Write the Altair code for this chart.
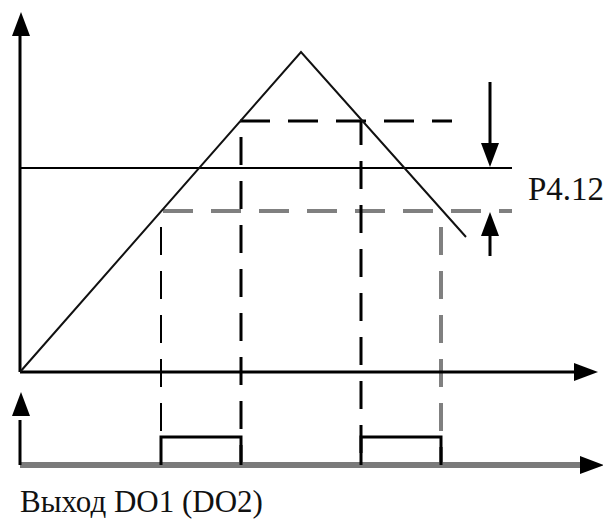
import altair as alt
import pandas as pd

# Conceptual coordinates: time t (origin = 0) and signal level s (origin = 0)
tri_t = [0, 281, 446]            # rising / falling signal
tri_s = [0, 320, 135]

level_hi = 251                   # upper hysteresis bound
level_set = 204                  # P4.12 set point
level_lo = 161                   # lower hysteresis bound

t_on1, t_off1, t_on2, t_off2 = 141, 221, 341, 421   # crossing moments

out_base = -93                   # DO output baseline
out_high = -65                   # DO output high level

axis_end_x = 555
axis_top_y = 340
out_axis_end_x = 570
out_axis_top_y = -48

adj_t = 470                      # position of the adjustment arrows
adj_top, adj_bottom = 290, 116

label_set = "P4.12"
label_out = "Выход DO1 (DO2)"

X = dict(scale=alt.Scale(domain=[-12, 583], nice=False, zero=False), axis=None)
Y = dict(scale=alt.Scale(domain=[-147, 364], nice=False, zero=False), axis=None)


def seg(rows, color="#000000", width=3, dash=None, offset=None):
    df = pd.DataFrame(rows, columns=["t", "s", "t2", "s2"])
    kw = dict(color=color, strokeWidth=width)
    if dash is not None:
        kw["strokeDash"] = dash
    if offset is not None:
        kw["strokeDashOffset"] = offset
    return alt.Chart(df).mark_rule(**kw).encode(
        x=alt.X("t:Q", **X), y=alt.Y("s:Q", **Y), x2="t2:Q", y2="s2:Q"
    )


def poly(ts, ss, color="#000000", width=2):
    df = pd.DataFrame({"t": ts, "s": ss, "o": list(range(len(ts)))})
    return alt.Chart(df).mark_line(color=color, strokeWidth=width).encode(
        x=alt.X("t:Q", **X), y=alt.Y("s:Q", **Y), order="o:Q"
    )


# axes
axes = seg([
    [0, 0, 0, axis_top_y],
    [0, 0, axis_end_x, 0],
    [0, out_base, 0, out_axis_top_y],
])
out_axis = seg([[0, out_base, out_axis_end_x, out_base]], color="#7a7a7a", width=6)

# set point line
setline = seg([[0, level_set, 492, level_set]], width=2)

# hysteresis dashed lines
hi_dash = seg([[t_off1 - 1, level_hi, 432, level_hi]], width=3, dash=[30, 18])
lo_dash = seg([[t_on1 + 2, level_lo, 492, level_lo]], color="#808080", width=4, dash=[30, 18])

# vertical dashed projections
v1 = seg([[t_on1, level_lo, t_on1, out_base]], width=2, dash=[28, 16], offset=28)
v2 = seg([[t_off1, level_hi, t_off1, out_base]], width=3, dash=[28, 16], offset=28)
v3 = seg([[t_on2, level_hi, t_on2, out_base]], width=3, dash=[28, 16], offset=4)
v4 = seg([[t_off2, level_lo, t_off2, out_base]], color="#808080", width=4, dash=[28, 16], offset=28)

# signal triangle
signal = poly(tri_t, tri_s, color="#111111", width=2)

# output pulses
p1 = poly([t_on1, t_on1, t_off1, t_off1], [out_base, out_high, out_high, out_base], width=3)
p2 = poly([t_on2, t_on2, t_off2, t_off2], [out_base, out_high, out_high, out_base], width=3)

# adjustment arrows shafts
shafts = seg([
    [adj_t, adj_top, adj_t, 215],
    [adj_t, adj_bottom, adj_t, 150],
])

# arrowheads
heads = pd.DataFrame({
    "t": [1, 566, 1, 572, adj_t, adj_t],
    "s": [348, 0, -32, out_base, 217, 148],
    "a": [0, 90, 0, 90, 180, 0],
})
arrowheads = alt.Chart(heads).mark_point(
    shape="M0,-1L0.75,1L-0.75,1Z", filled=True, color="#000000", opacity=1, size=576
).encode(
    x=alt.X("t:Q", **X), y=alt.Y("s:Q", **Y), angle=alt.Angle("a:Q", scale=None)
)

texts = pd.DataFrame({
    "t": [508, 0],
    "s": [182, -140],
    "txt": [label_set, label_out],
})
t_set = alt.Chart(texts.iloc[[0]]).mark_text(
    font="Liberation Serif", fontSize=33, align="left", baseline="middle", color="#111111"
).encode(x=alt.X("t:Q", **X), y=alt.Y("s:Q", **Y), text="txt:N")
t_out = alt.Chart(texts.iloc[[1]]).mark_text(
    font="Liberation Serif", fontSize=31, align="left", baseline="alphabetic", color="#111111"
).encode(x=alt.X("t:Q", **X), y=alt.Y("s:Q", **Y), text="txt:N")

chart = alt.layer(
    setline, hi_dash, lo_dash, v1, v2, v3, v4, out_axis, axes,
    signal, p1, p2, shafts, arrowheads, t_set, t_out
).properties(
    width=595, height=511, padding=0,
    autosize=alt.AutoSizeParams(type="none"),
).configure_view(stroke=None)

chart.save("out.html", embed_options={"renderer": "svg", "actions": False})
